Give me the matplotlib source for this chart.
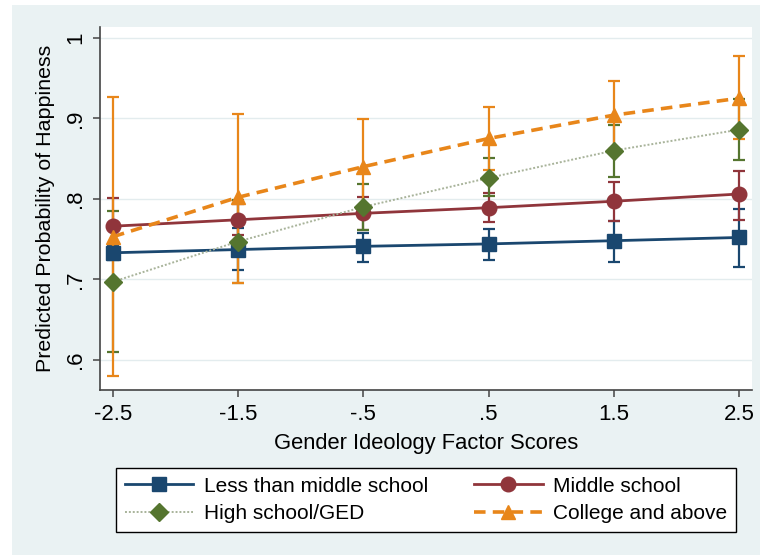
import numpy as np
import matplotlib
matplotlib.use("Agg")
import matplotlib.pyplot as plt
from matplotlib.patches import Rectangle

plt.rcParams['font.family'] = ['Liberation Sans', 'DejaVu Sans']

# gender ideology factor scores
scores = [-2.5, -1.5, -0.5, 0.5, 1.5, 2.5]
score_labels = ["-2.5", "-1.5", "-.5", ".5", "1.5", "2.5"]

# predicted probabilities with 95% confidence limits, by education
less_mid = [0.733, 0.737, 0.741, 0.744, 0.748, 0.752]
less_mid_lo = [0.724, 0.711, 0.722, 0.724, 0.722, 0.715]
less_mid_hi = [0.742, 0.764, 0.758, 0.763, 0.773, 0.787]

middle = [0.766, 0.774, 0.782, 0.789, 0.797, 0.806]
middle_lo = [0.731, 0.755, 0.761, 0.771, 0.773, 0.774]
middle_hi = [0.801, 0.793, 0.802, 0.807, 0.821, 0.835]

high = [0.697, 0.747, 0.790, 0.826, 0.860, 0.886]
high_lo = [0.610, 0.695, 0.761, 0.803, 0.827, 0.848]
high_hi = [0.785, 0.799, 0.819, 0.851, 0.892, 0.924]

college = [0.753, 0.802, 0.840, 0.875, 0.904, 0.925]
college_lo = [0.580, 0.695, 0.781, 0.836, 0.862, 0.874]
college_hi = [0.927, 0.906, 0.899, 0.914, 0.946, 0.977]

y_ticks = [0.6, 0.7, 0.8, 0.9, 1.0]
y_tick_labels = [".6", ".7", ".8", ".9", "1"]

navy = "#1A476F"
maroon = "#90353B"
green = "#55752F"
orange = "#E8861A"
bg = "#EAF2F3"

series = [
    ("Less than middle school", less_mid, less_mid_lo, less_mid_hi, navy, "s", "-", navy, 2.0, 9.5),
    ("Middle school", middle, middle_lo, middle_hi, maroon, "o", "-", maroon, 2.0, 10.5),
    ("High school/GED", high, high_lo, high_hi, green, "D", (0, (1, 1)), "#A8B39A", 1.4, 9.5),
    ("College and above", college, college_lo, college_hi, orange, "^", (0, (3.2, 2.0)), orange, 2.6, 10.5),
]

fig = plt.figure(figsize=(7.6, 5.58), dpi=100)
fig.patch.set_facecolor("white")
fig.patches.append(Rectangle((12 / 760, 3 / 558), 748 / 760, 550 / 558,
                             transform=fig.transFigure, facecolor=bg,
                             edgecolor="none", zorder=-5))

ax = fig.add_axes([100 / 760, 1 - 390 / 558, 652 / 760, 363 / 558])
ax.set_facecolor("white")

x = np.array(scores)
# confidence intervals first, then connected estimates on top
for name, y, lo, hi, col, mk, ls, lcol, lw, ms in series:
    y = np.array(y)
    err = [y - np.array(lo), np.array(hi) - y]
    ax.errorbar(x, y, yerr=err, fmt="none", ecolor=col, elinewidth=1.6,
                capsize=4, capthick=1.6, zorder=2)

handles = {}
for name, y, lo, hi, col, mk, ls, lcol, lw, ms in series:
    handles[name], = ax.plot([], [], color=lcol, linestyle=ls, linewidth=lw,
                             marker=mk, markersize=ms, markerfacecolor=col,
                             markeredgecolor=col, label=name)
    ax.plot(x, y, color=lcol, linestyle=ls, linewidth=lw, zorder=3)
    ax.plot(x, y, linestyle="none", marker=mk, markersize=ms,
            markerfacecolor=col, markeredgecolor=col, zorder=4)

ax.set_xlim(-2.604, 2.604)
ax.set_ylim(0.5625, 1.0135)
ax.set_xticks(scores)
ax.set_xticklabels(score_labels, fontsize=16)
ax.set_yticks(y_ticks)
ax.set_yticklabels(y_tick_labels, fontsize=16, rotation=90, va="center")
ax.grid(axis="y", color="#E3ECEE", linewidth=1.0, zorder=1)
ax.set_axisbelow(True)

for side in ["top", "right"]:
    ax.spines[side].set_visible(False)
for side in ["left", "bottom"]:
    ax.spines[side].set_color("#444444")
    ax.spines[side].set_linewidth(1.2)
ax.tick_params(axis="both", direction="out", length=5, width=1.1,
               color="#444444", pad=5)

ax.set_xlabel("Gender Ideology Factor Scores", fontsize=15.8, labelpad=6)
ax.set_ylabel("Predicted Probability of Happiness", fontsize=15.4, labelpad=7)

# legend fills column-wise, so interleave to get two rows of two
order = ["Less than middle school", "High school/GED",
         "Middle school", "College and above"]
leg = fig.legend([handles[n] for n in order], order, loc="center",
                 bbox_to_anchor=(426 / 760, 1 - 500 / 558),
                 ncol=2, fontsize=15, frameon=True, fancybox=False,
                 framealpha=1, edgecolor="black", handlelength=3.3,
                 columnspacing=2.2, labelspacing=0.42, borderpad=0.4,
                 handletextpad=0.5)
leg.get_frame().set_linewidth(1.0)

fig.savefig("out.png", dpi=100, facecolor=fig.get_facecolor())
